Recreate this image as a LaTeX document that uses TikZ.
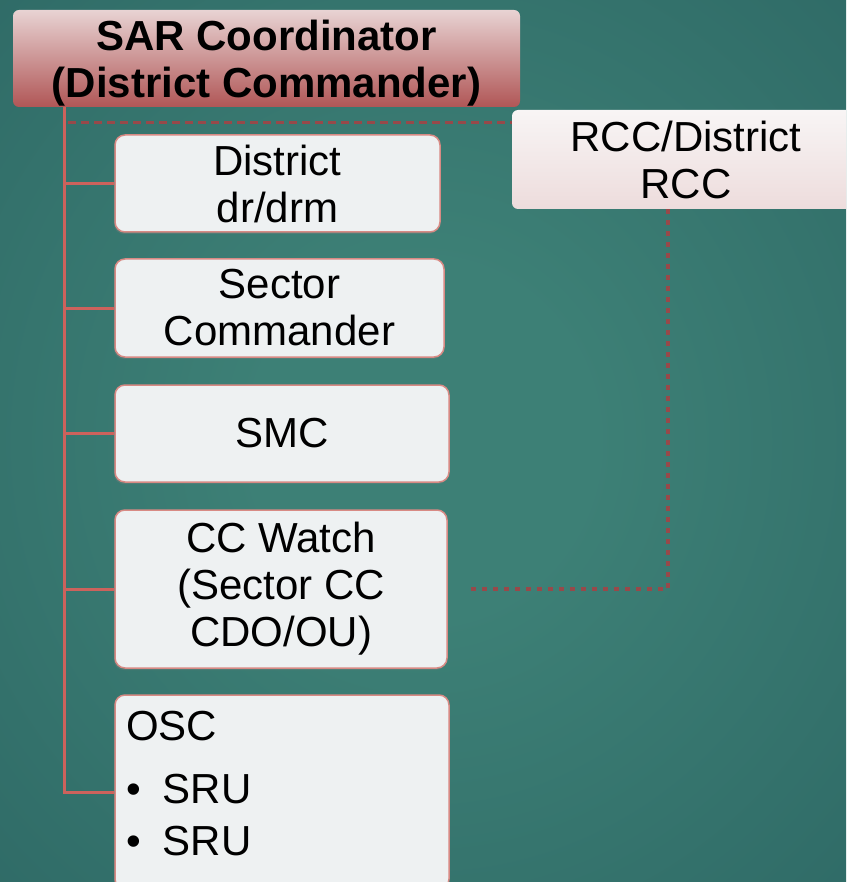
\documentclass[tikz,border=0pt]{standalone}
\usepackage{fontspec}
\setmainfont{Liberation Sans}
\usetikzlibrary{shadows}
\definecolor{bgin}{HTML}{3D8076}
\definecolor{bgout}{HTML}{235859}
\definecolor{trunkred}{HTML}{CD625C}
\definecolor{dashred}{HTML}{97494A}
\definecolor{boxfill}{HTML}{EEF1F2}
\definecolor{boxline}{HTML}{D88A84}
\definecolor{sartop}{HTML}{E8D3D3}
\definecolor{sarmid}{HTML}{D29E9E}
\definecolor{sarbot}{HTML}{B05656}
\definecolor{rcctop}{HTML}{F8F5F5}
\definecolor{rccbot}{HTML}{EDDCDC}
\pgfdeclareradialshading{bgshade}{\pgfpoint{0bp}{0bp}}{color(0bp)=(bgin); color(10bp)=(bgin); color(60bp)=(bgout); color(75bp)=(bgout)}
\tikzset{
  lbl/.style={font=\fontsize{42}{47}\selectfont, align=center, inner sep=0pt, text=black},
  boxshadow/.style={drop shadow={opacity=0.35, shadow xshift=-1pt, shadow yshift=-2pt}},
  rolebox/.style={lbl, rectangle, rounded corners=10pt, fill=boxfill, draw=boxline, line width=1.5pt, boxshadow},
  sarbox/.style={lbl, font=\fontsize{42}{47}\selectfont\bfseries, rectangle, rounded corners=6pt,
    top color=sartop, middle color=sarmid, bottom color=sarbot, text depth=0pt},
  rccbox/.style={lbl, rectangle, rounded corners=6pt, top color=rcctop, bottom color=rccbot},
  trunk/.style={draw=trunkred, line width=3pt},
  dashline/.style={draw=dashred, line width=3pt, dash pattern=on 8pt off 5pt},
  dotline/.style={draw=dashred, line width=3.5pt, dash pattern=on 5pt off 6pt}
}
\begin{document}
\begin{tikzpicture}[x=1pt,y=-1pt]
\useasboundingbox (0,0) rectangle (846,882);
\clip (0,0) rectangle (846,882);
\shade[shading=bgshade] (0,0) rectangle (846,882);

% nodes
\node[sarbox, minimum width=507pt, minimum height=97pt] (sar) at (266.5,58.5) {SAR Coordinator\\(District Commander)};
\node[rccbox, minimum width=348pt, minimum height=99pt] (rcc) at (686,159.5) {RCC/District\\RCC};

\node[rolebox, minimum width=325pt, minimum height=97pt] (dist) at (277.5,183.5) {District\\dr/drm};
\node[rolebox, minimum width=329pt, minimum height=98pt] (sect) at (279.5,308) {Sector\\Commander};
\node[rolebox, minimum width=334pt, minimum height=97pt] (smc) at (282,433.5) {SMC};
\node[rolebox, minimum width=332pt, minimum height=158pt] (ccw) at (281,589) {CC Watch\\(Sector CC\\CDO/OU)};
\node[rolebox, minimum width=334pt, minimum height=194pt] (osc) at (282,792) {};
\node[lbl, anchor=base west] (osct) at (126,740) {OSC};
\node[lbl, anchor=base west] (sru1) at (126,803) {\textbullet\hspace{22pt}SRU};
\node[lbl, anchor=base west] (sru2) at (126,855) {\textbullet\hspace{22pt}SRU};

% connectors
\coordinate (trunkx) at (64,0);
\coordinate (dashy) at (68,123);
\coordinate (dotx) at (668,0);
\draw[dashline] (dashy) -- (dashy -| rcc.west);
\draw[dotline, shorten >=19pt] (rcc.south -| dotx) |- (ccw.east);
\draw[trunk] (sar.south -| trunkx) |- (osc.west);
\foreach \n in {dist,sect,smc,ccw} \draw[trunk] (\n.west -| trunkx) -- (\n.west);
\end{tikzpicture}
\end{document}
